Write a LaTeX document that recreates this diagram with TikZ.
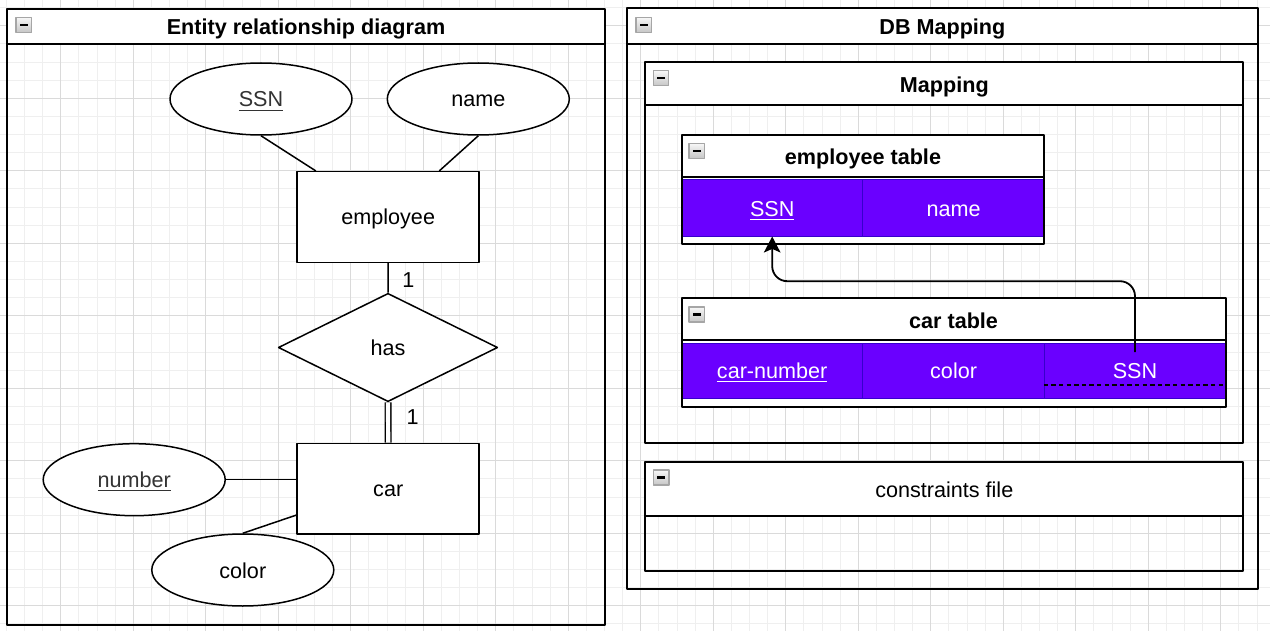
\documentclass[tikz,border=0pt]{standalone}
\usepackage{fontspec}
\setmainfont{Liberation Sans}
\usetikzlibrary{shapes.geometric,calc,arrows.meta}
\definecolor{pfill}{HTML}{6A00FF}
\definecolor{pborder}{HTML}{3700CC}
\definecolor{gminor}{HTML}{EFEFEF}
\definecolor{gmajor}{HTML}{DADADA}
\definecolor{ultext}{HTML}{333333}
\newcommand\mkicon[2]{%
  \shade[top color=gray!6, bottom color=gray!45, draw=gray!70, line width=0.6pt] (#1,#2) rectangle ++(15.5,15);
  \draw[line width=1.1pt] (#1+4,#2+7.5) -- ++(7.5,0);}
\begin{document}
\begin{tikzpicture}[x=0.5pt, y=-0.5pt, font=\fontsize{10.8}{13}\selectfont, line join=round,
  every node/.style={text height=10pt, text depth=2pt},
  cont/.style={draw=black, line width=1pt},
  hdr/.style={font=\fontsize{10.8}{13}\selectfont\bfseries},
  er/.style={draw=black, fill=white, line width=0.75pt, inner sep=0pt},
  ent/.style={er, rectangle, minimum width=91pt, minimum height=45.3pt},
  attr/.style={er, ellipse, minimum width=91pt, minimum height=36pt},
  rel/.style={er, diamond, minimum width=109.7pt, minimum height=54.2pt},
  erline/.style={line width=0.75pt},
  cell/.style={draw=pborder, fill=pfill, line width=0.5pt, text=white, minimum width=90.7pt, minimum height=28pt, inner sep=0pt},
  ccell/.style={cell, minimum height=27.5pt},
  fk/.style={line width=0.9pt, rounded corners=7.5pt, -{Stealth[length=8pt, width=8.3pt, inset=1.8pt]}}
]
\useasboundingbox (0,0) rectangle (1270,631);
\fill[white] (0,0) rectangle (1270,631);
% grid
\foreach \i in {0,...,70} {\pgfmathsetmacro\gx{6.425+\i*18.125}\draw[gminor, line width=0.5pt] (\gx,0) -- (\gx,631);}
\foreach \j in {0,...,34} {\pgfmathsetmacro\gy{7.675+\j*18.125}\draw[gminor, line width=0.5pt] (0,\gy) -- (1270,\gy);}
\foreach \i in {0,...,16} {\pgfmathsetmacro\gx{60.8+\i*72.5}\draw[gmajor, line width=0.5pt] (\gx,0) -- (\gx,631);}
\foreach \j in {0,...,8} {\pgfmathsetmacro\gy{25.8+\j*72.5}\draw[gmajor, line width=0.5pt] (0,\gy) -- (1270,\gy);}

% ===== Left container =====
\fill[white] (7,9) rectangle (605,44.5);
\draw[cont] (7,9) rectangle (605,624.5);
\draw[cont] (7,44.5) -- (605,44.5);
\node[hdr] (ertitle) at (306,27) {Entity relationship diagram};
\mkicon{16}{17.3}

% ===== DB Mapping container =====
\fill[white] (627.3,8.5) rectangle (1257.5,44.5);
\draw[cont] (627.3,8.5) rectangle (1257.5,588.5);
\draw[cont] (627.3,44.5) -- (1257.5,44.5);
\node[hdr] (dbtitle) at (942.4,27) {DB Mapping};
\mkicon{636}{17.3}

% Mapping
\fill[white] (645.3,62.5) rectangle (1243.3,105);
\draw[cont] (645.3,62.5) rectangle (1243.3,443);
\draw[cont] (645.3,105) -- (1243.3,105);
\node[hdr] (maptitle) at (944.3,84.5) {Mapping};
\mkicon{653.3}{70.7}

% employee table
\fill[white] (681.5,135.3) rectangle (1044.3,244.3);
\draw[cont] (681.5,177) -- (1044.3,177);
\node[cell] (essn) at (772.2,208) {\underline{SSN}};
\node[cell] (ename) at (953.6,208) {name};
\draw[cont] (681.5,135.3) rectangle (1044.3,244.3);
\node[hdr] (emptitle) at (863,157) {employee table};
\mkicon{689}{143.3}

% car table
\fill[white] (681.5,298.3) rectangle (1225.7,407.3);
\draw[cont] (681.5,340) -- (1225.7,340);
\node[ccell] (ccn) at (772.2,370.8) {\underline{car-number}};
\node[ccell] (ccol) at (953.6,370.8) {color};
\node[ccell] (cssn) at (1135,370.8) {SSN};
\draw[line width=0.7pt, dash pattern=on 2.2pt off 1.6pt] ($(cssn.south west)+(0,-14)$) -- ($(cssn.south east)+(0,-14)$);
\draw[cont] (681.5,298.3) rectangle (1225.7,407.3);
\node[hdr] (cartitle) at (953.6,320) {car table};
\mkicon{689}{307}

% foreign key arrow
\draw[fk] ($(cssn.north)+(0,9.4)$) |- ([yshift=-22.35pt]essn.south) -- (essn.south);

% constraints file
\fill[white] (645.3,461.7) rectangle (1243.3,516);
\draw[cont] (645.3,461.7) rectangle (1243.3,570.7);
\draw[cont] (645.3,516) -- (1243.3,516);
\node (constitle) at (944.3,489) {constraints file};
\mkicon{653.4}{470}

% ===== ER diagram =====
\node[attr] (assn) at (261,99) {\textcolor{ultext}{\underline{SSN}}};
\node[attr] (aname) at (478.3,99) {name};
\node[ent] (emp) at (388.2,217) {employee};
\node[rel] (has) at (388,347.5) {has};
\node[ent] (car) at (388.2,488.7) {car};
\node[attr] (anum) at (134.2,479.7) {\textcolor{ultext}{\underline{number}}};
\node[attr] (acol) at (242.8,570) {color};

\draw[erline] (assn.south) -- ($(emp.north west)+(19.4,0)$);
\draw[erline] (aname.south) -- ($(emp.north east)+(-40.7,0)$);
\draw[erline] (emp.south) -- (has.north);
\draw[line width=0.7pt, double=white, double distance=2.1pt] (has.south) -- (car.north);
\draw[erline] (anum.east) -- (anum.east -| car.west);
\draw[erline] (acol.north) -- ($(car.south west)+(0,-19.7)$);
\node (one1) at (408.3,279) {1};
\node (one2) at (412.7,416.5) {1};
\end{tikzpicture}
\end{document}
